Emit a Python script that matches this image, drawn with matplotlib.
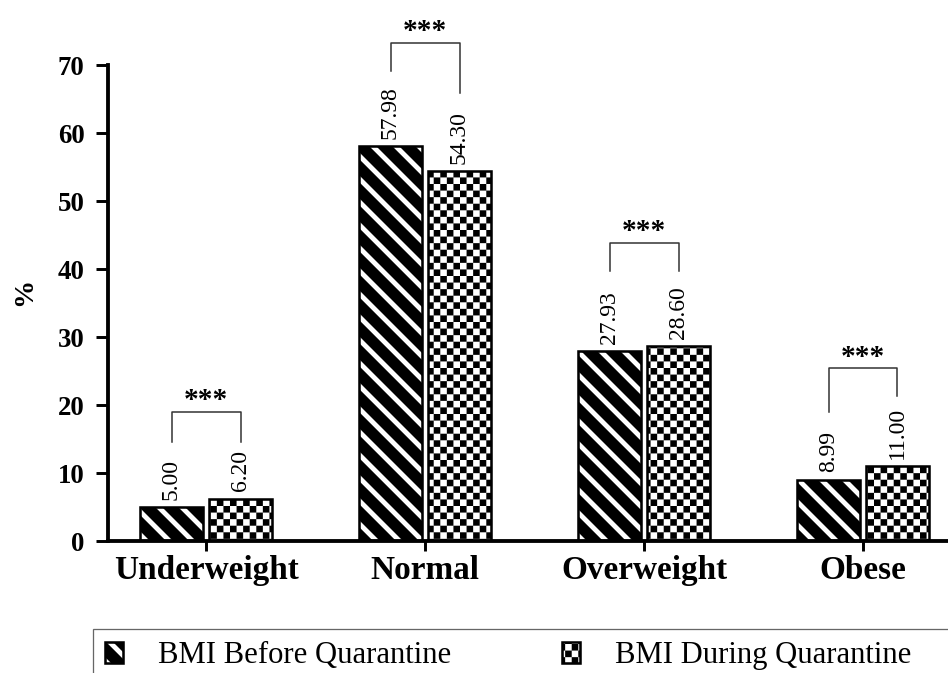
import numpy as np
import matplotlib
matplotlib.use('Agg')
import matplotlib.pyplot as plt
import matplotlib.hatch as mhatch
from matplotlib.path import Path
from matplotlib.patches import Rectangle

# data
categories = ['Underweight', 'Normal', 'Overweight', 'Obese']
before = [5.00, 57.98, 27.93, 8.99]
during = [6.20, 54.30, 28.60, 11.00]
series_names = ['BMI Before Quarantine', 'BMI During Quarantine']
yticks = [0, 10, 20, 30, 40, 50, 60, 70]
# significance brackets (top of bracket, end of left leg, end of right leg), in %
sig_top = [19.0, 73.2, 43.8, 25.4]
sig_left = [14.6, 69.0, 39.6, 19.0]
sig_right = [14.6, 65.9, 39.6, 21.3]
sig_text = ['***', '***', '***', '***']


# two extra hatch fills: thick '\' bands ('O') and a checkerboard ('o')
class StripeHatch(mhatch.HatchPatternBase):
    def __init__(self, hatch, density):
        self.n = 4 if 'O' in hatch else 0
        self.num_vertices = 5 * 3 * self.n

    def set_vertices_and_codes(self, vertices, codes):
        w = 0.7 / self.n
        verts = []
        for k in range(-self.n, 2 * self.n):
            c = k / self.n
            verts += [(-0.1, c + 0.1), (1.1, c - 1.1), (1.1, c - 1.1 + w),
                      (-0.1, c + 0.1 + w), (-0.1, c + 0.1)]
        vertices[:] = verts
        codes[:] = [Path.MOVETO, Path.LINETO, Path.LINETO, Path.LINETO,
                    Path.CLOSEPOLY] * (3 * self.n)


class CheckerHatch(mhatch.HatchPatternBase):
    def __init__(self, hatch, density):
        self.n = 14 if 'o' in hatch else 0
        self.num_vertices = 5 * (self.n * self.n // 2)

    def set_vertices_and_codes(self, vertices, codes):
        s = 1.0 / self.n
        verts = []
        for i in range(self.n):
            for j in range(self.n):
                if (i + j) % 2 == 0:
                    x0, y0 = i * s, j * s
                    verts += [(x0, y0), (x0 + s, y0), (x0 + s, y0 + s),
                              (x0, y0 + s), (x0, y0)]
        vertices[:] = verts
        codes[:] = [Path.MOVETO, Path.LINETO, Path.LINETO, Path.LINETO,
                    Path.CLOSEPOLY] * (len(verts) // 5)


mhatch._hatch_types = [h for h in mhatch._hatch_types
                       if h not in (mhatch.SmallCircles, mhatch.LargeCircles)]
mhatch._hatch_types += [StripeHatch, CheckerHatch]

plt.rcParams['font.family'] = ['Liberation Serif', 'DejaVu Serif']
plt.rcParams['hatch.linewidth'] = 0.01

DPI = 92
fig = plt.figure(figsize=(948.4 / DPI, 673.4 / DPI), dpi=DPI)
ax = fig.add_axes([108 / 948, 132 / 673, 840 / 948, 476 / 673])

x = np.arange(len(categories))
bw = 0.288
off = 0.1575
b1 = ax.bar(x - off, before, bw, color='white', edgecolor='black',
            linewidth=2, hatch='O', label=series_names[0])
b2 = ax.bar(x + off, during, bw, color='white', edgecolor='black',
            linewidth=2, hatch='o', label=series_names[1])

for bars, vals in [(b1, before), (b2, during)]:
    for r, v in zip(bars, vals):
        ax.annotate('%.2f' % v, (r.get_x() + r.get_width() / 2, v),
                    xytext=(0, 6), textcoords='offset points', rotation=90,
                    ha='center', va='bottom', fontsize=18.5)

for i in range(len(categories)):
    xl, xr = x[i] - off, x[i] + off
    ax.plot([xl, xl, xr, xr], [sig_left[i], sig_top[i], sig_top[i], sig_right[i]],
            color='#333333', lw=1.2, clip_on=False)
    ax.annotate(sig_text[i], ((xl + xr) / 2, sig_top[i]), xytext=(0, 3),
                textcoords='offset points', ha='center', va='baseline',
                fontsize=23, fontweight='bold', annotation_clip=False)

ax.set_xlim(-0.4475, 3.39)
ax.set_ylim(0, 70)
ax.set_yticks(yticks)
ax.set_xticks(x, categories)
for pos in ['right', 'top']:
    ax.spines[pos].set_visible(False)
for pos in ['left', 'bottom']:
    ax.spines[pos].set_linewidth(3)
ax.tick_params(axis='y', width=2.3, length=9.5, labelsize=21, pad=9)
ax.tick_params(axis='x', width=2.3, length=8, labelsize=26, pad=3)
for lab in ax.get_xticklabels() + ax.get_yticklabels():
    lab.set_fontweight('bold')

fig.text(25 / 948, 1 - 292 / 673, '%', rotation=90, ha='center', va='center',
         fontsize=22, fontweight='bold')

# legend box runs off the bottom and right edges of the picture
leg = fig.legend(handles=[b1, b2], labels=series_names, loc='upper left',
                 bbox_to_anchor=(105 / 948, 1 - 641 / 673), ncol=2,
                 fontsize=24, frameon=False, handlelength=0.59,
                 handleheight=0.68, handletextpad=1.14, columnspacing=3.6,
                 borderpad=0, borderaxespad=0)
fig.add_artist(Rectangle((93 / 948, -0.1), 1.0, 1 - 629 / 673 + 0.1,
                         transform=fig.transFigure, fill=False,
                         edgecolor='#666666', linewidth=1))

fig.savefig('out.png', dpi=DPI)
